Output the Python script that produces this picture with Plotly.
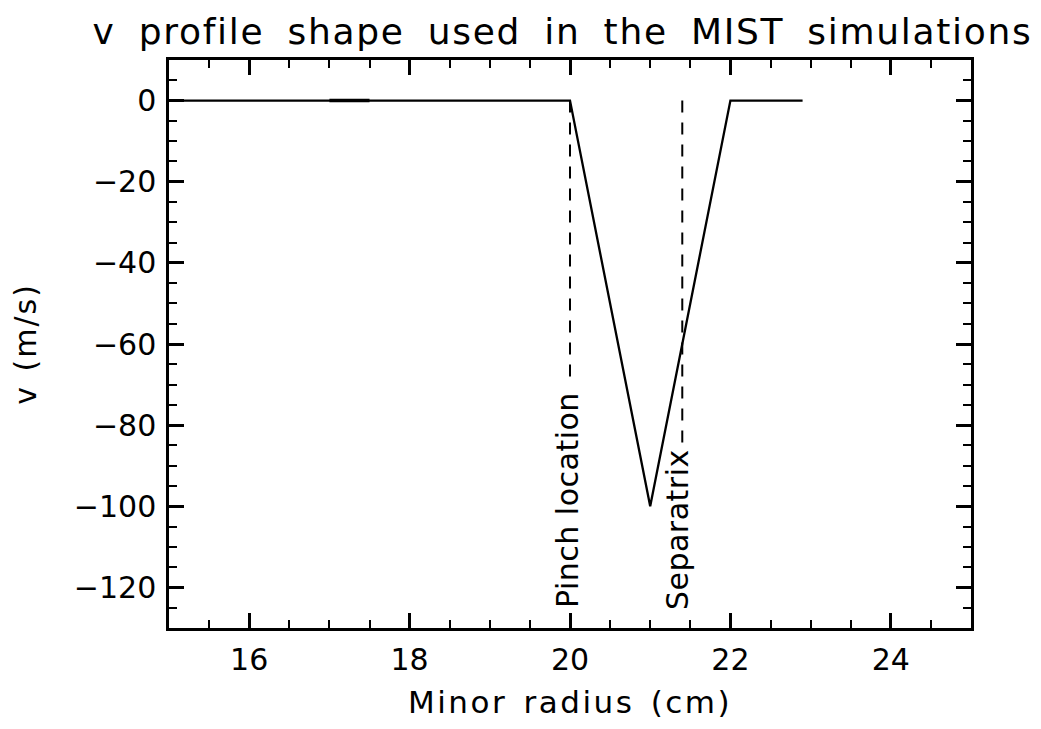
import plotly.graph_objects as go

# Profile data
radius = [15.0, 17.0, 17.5, 20.0, 21.0, 22.0, 22.9]
velocity = [0, 0, 0, 0, -100, 0, 0]

# Slightly overdrawn segment seen in the original
overlap_x = [17.0, 17.5]
overlap_y = [0, 0]

# Marker lines
pinch_x = 20.0
pinch_y = [0, -69]
sep_x = 21.4
sep_y = [0, -85]

labels = ["Pinch location", "Separatrix"]
label_x = [19.96, 21.35]
label_y = [-98.5, -105.8]

FONT = "DejaVu Sans"
fs = 30
OFF = 8  # page body margin offset

fig = go.Figure()
fig.add_trace(go.Scatter(x=radius, y=velocity, mode="lines",
                         line=dict(color="black", width=2.3), showlegend=False))
fig.add_trace(go.Scatter(x=overlap_x, y=overlap_y, mode="lines",
                         line=dict(color="black", width=3.5), showlegend=False))
fig.add_trace(go.Scatter(x=[pinch_x, pinch_x], y=pinch_y, mode="lines",
                         line=dict(color="black", width=2, dash="12px,10px"), showlegend=False))
fig.add_trace(go.Scatter(x=[sep_x, sep_x], y=sep_y, mode="lines",
                         line=dict(color="black", width=2, dash="12px,10px"), showlegend=False))

for t, x, y in zip(labels, label_x, label_y):
    fig.add_annotation(x=x, y=y, xref="x", yref="y",
                       text=f'<span style="letter-spacing:0.5px">{t}</span>', textangle=-90,
                       showarrow=False, xanchor="center", yanchor="middle",
                       font=dict(family=FONT, size=fs, color="black"))

axis_common = dict(
    showgrid=False, zeroline=False, showline=True, linecolor="black", linewidth=2.5,
    mirror="allticks", ticks="inside", ticklen=15, tickwidth=2.5, tickcolor="black",
    tickfont=dict(family=FONT, size=fs, color="black"),
)

fig.update_xaxes(range=[15, 25], tick0=0, dtick=2,
                 minor=dict(dtick=0.5, ticks="inside", ticklen=8, tickwidth=2, tickcolor="black"),
                 ticklabelstandoff=3,
                 title=dict(text='<span style="letter-spacing:2.5px;word-spacing:4px">Minor radius (cm)</span>',
                            font=dict(family=FONT, size=31, color="black"), standoff=16),
                 **axis_common)
fig.update_yaxes(range=[-130, 10], tick0=0, dtick=20,
                 minor=dict(dtick=5, ticks="inside", ticklen=8, tickwidth=2, tickcolor="black"),
                 ticklabelstandoff=4,
                 title=dict(text='<span style="letter-spacing:2px;word-spacing:2px">v (m/s)</span>',
                            font=dict(family=FONT, size=fs, color="black"), standoff=30),
                 **axis_common)

fig.update_layout(
    width=1041, height=729,
    margin=dict(l=169 - OFF, r=70 + OFF, t=60 - OFF, b=101 + OFF),
    paper_bgcolor="white", plot_bgcolor="white",
    title=dict(text='<span style="letter-spacing:1.7px;word-spacing:10px">v profile shape used in the MIST simulations</span>',
               x=(562.5 - OFF) / 1041, xanchor="center", xref="container",
               y=1 - (31.5 - OFF) / 729, yanchor="middle", yref="container",
               font=dict(family=FONT, size=36, color="black")),
)

fig.write_html("out.html")
